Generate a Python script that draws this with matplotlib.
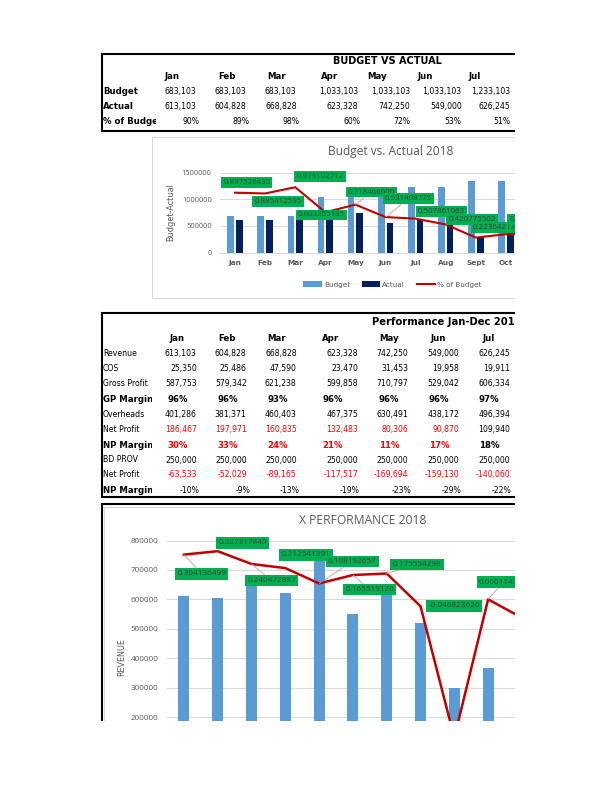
import matplotlib
matplotlib.use('Agg')
import matplotlib.pyplot as plt
from matplotlib.patches import Rectangle
from matplotlib.lines import Line2D
from matplotlib.transforms import Bbox, TransformedBbox
import numpy as np

# ---------------- data ----------------
t1_months = ['Jan', 'Feb', 'Mar', 'Apr', 'May', 'Jun', 'Jul']
t1_budget = [683103, 683103, 683103, 1033103, 1033103, 1033103, 1233103]
t1_actual = [613103, 604828, 668828, 623328, 742250, 549000, 626245]
t1_pct = ['90%', '89%', '98%', '60%', '72%', '53%', '51%']

revenue = [613103, 604828, 668828, 623328, 742250, 549000, 626245]
cos = [25350, 25486, 47590, 23470, 31453, 19958, 19911]
gross_profit = [587753, 579342, 621238, 599858, 710797, 529042, 606334]
gp_margin = ['96%', '96%', '93%', '96%', '96%', '96%', '97%']
overheads = [401286, 381371, 460403, 467375, 630491, 438172, 496394]
net_profit = [186467, 197971, 160835, 132483, 80306, 90870, 109940]
np_margin = ['30%', '33%', '24%', '21%', '11%', '17%', '18%']
bd_prov = [250000, 250000, 250000, 250000, 250000, 250000, 250000]
net_profit2 = [-63533, -52029, -89165, -117517, -169694, -159130, -140060]
np_margin2 = ['-10%', '-9%', '-13%', '-19%', '-23%', '-29%', '-22%']
red_net_profit = [True, True, True, True, True, True, False]
red_np_margin = [True, True, True, True, True, True, False]
red_net_profit2 = [True, True, True, True, True, True, True]

c1_months = ['Jan', 'Feb', 'Mar', 'Apr', 'May', 'Jun', 'Jul', 'Aug', 'Sept', 'Oct', 'Nov', 'Dec']
c1_budget = [683103, 683103, 683103, 1033103, 1033103, 1033103, 1233103, 1233103, 1333103, 1333103]
c1_actual = [613103, 604828, 668828, 623328, 742250, 549000, 626245, 518866, 298138, 366000]
c1_pct = [0.897526435, 0.885412595, 0.979102712, 0.603355135, 0.718466600, 0.531408775,
          0.507861063, 0.420775502, 0.223642135, 0.274547248, 0.29]

c2_months = c1_months
c2_revenue = [613103, 604828, 668828, 623328, 742250, 549000, 626245, 518866, 298138, 366000]
c2_margin = [0.304136499, 0.327317849, 0.240472887, 0.212541391, 0.108192657, 0.165519126,
             0.175554296, -0.046823626, -0.94, 0.000114350, -0.125]

# label offsets (pixels, +y = up) and leader flags; None = label not on the page
c1_off = [(11.7, 10.2), (12.9, -8.2), (24.8, 10.7), (-3.9, -2.7), (16.2, 12.6), (22.8, 18.2),
          (25.9, 7.6), (26.2, 4.9), (20.9, 10.1), (27.0, 14.7), None]
c1_lead = [False, False, False, False, True, True, False, False, False, False, False]
c2_off = [(17.8, -19.3), (24.8, 8.2), (20.2, -16.7), (20.7, 13.1), (33.1, 21.8), (16.8, -14.3),
          (30.3, 9.1), (33.8, 0.3), (30, -10), (15.2, 17.2), None]
c2_lead = [True, False, True, False, True, True, True, False, False, True, False]

# ---------------- figure ----------------
W, H = 612, 792
fig = plt.figure(figsize=(W / 100, H / 100), dpi=100)
fig.patch.set_facecolor('white')


def X(px):
    return px / W


def Y(py):
    return 1 - py / H


BLUE = '#5B9BD5'
NAVY = '#002060'
RED_LINE = '#C00000'
GREEN = '#00B050'
GRID = '#D9D9D9'
GREYTXT = '#595959'
CF = 'Open Sans'


def hline(x1, x2, y, color='black', lw=1.5, z=5):
    fig.add_artist(Line2D([X(x1), X(x2)], [Y(y), Y(y)], transform=fig.transFigure,
                          color=color, lw=lw, zorder=z, solid_capstyle='butt'))


def vline(x, y1, y2, color='black', lw=1.5, z=5):
    fig.add_artist(Line2D([X(x), X(x)], [Y(y1), Y(y2)], transform=fig.transFigure,
                          color=color, lw=lw, zorder=z, solid_capstyle='butt'))


def cell(x, y, s, ha='right', bold=False, color='black', size=None, clipx=None):
    fs = size if size else (6.2 if bold else 5.6)
    t = fig.text(X(x), Y(y), s, ha=ha, va='center', fontsize=fs,
                 fontweight='bold' if bold else 'normal', color=color, family='DejaVu Sans')
    if clipx is not None:
        t.set_clip_box(TransformedBbox(Bbox.from_extents(0, 0, X(clipx), 1), fig.transFigure))
        t.set_clip_on(True)
    return t


def fmt(v):
    return f"{v:,}"


# ---------------- Table 1 ----------------
hline(101, 612, 54)
hline(101, 612, 131)
vline(101.7, 53.3, 131.7)
cell(387.5, 60.7, 'BUDGET VS ACTUAL', ha='center', bold=True, size=7)
t1_hdr_x = [171.7, 226.7, 276.7, 330, 377.5, 425, 475]
t1_num_r = [196.7, 246.7, 296.7, 358.3, 410, 461.7, 510]
t1_pct_r = [199.3, 249.3, 299.3, 360, 410, 461.7, 510]
for m, xx in zip(t1_months, t1_hdr_x):
    cell(xx, 76.7, m, ha='center', bold=True)
for lab, yy in zip(['Budget', 'Actual', '% of Budget'], [91.7, 106.7, 121]):
    cell(103, yy, lab, ha='left', bold=True, clipx=156)
for i in range(7):
    cell(t1_num_r[i], 91.7, fmt(t1_budget[i]))
    cell(t1_num_r[i], 106.7, fmt(t1_actual[i]))
    cell(t1_pct_r[i], 121, t1_pct[i])

# ---------------- Chart 1 ----------------
fig.add_artist(Rectangle((X(152), Y(298.3)), (700 - 152) / W, (298.3 - 136.5) / H,
                         transform=fig.transFigure, fill=False, ec=GRID, lw=0.75, zorder=-1))
fig.text(X(391), Y(152), 'Budget vs. Actual 2018', ha='center', va='center',
         fontsize=8.6, color=GREYTXT, family=CF)
fig.text(X(171), Y(212.5), 'Budget-Actual', ha='center', va='center', rotation=90,
         fontsize=5.9, color=GREYTXT, family='DejaVu Sans')

sp1 = 30.1
ax1 = fig.add_axes([X(220), Y(252.5), 12 * sp1 / W, 80 / H])
xb = np.arange(len(c1_budget))
b1 = ax1.bar(xb - 0.145, c1_budget, width=0.222, color=BLUE, zorder=2)
b2 = ax1.bar(xb + 0.145, c1_actual, width=0.222, color=NAVY, zorder=2)
ax1.set_xlim(-0.5, 11.5)
ax1.set_ylim(0, 1500000)
ax1.set_yticks([0, 500000, 1000000, 1500000])
ax1.set_yticklabels(['0', '500000', '1000000', '1500000'])
ax1.set_xticks(np.arange(len(c1_budget)))
ax1.set_xticklabels(c1_months[:len(c1_budget)])
ax1.grid(axis='y', color=GRID, lw=0.75)
ax1.set_axisbelow(True)
for s in ['top', 'right', 'left']:
    ax1.spines[s].set_visible(False)
ax1.spines['bottom'].set_color(GRID)
ax1.spines['bottom'].set_linewidth(0.75)
ax1.tick_params(axis='both', length=0)
ax1.tick_params(axis='y', pad=6, labelsize=5.4, labelcolor=GREYTXT)
ax1.tick_params(axis='x', pad=5.6, labelsize=5.3, labelcolor=GREYTXT)
for lab in ax1.get_yticklabels():
    lab.set_family(CF)
for lab in ax1.get_xticklabels():
    lab.set_family('DejaVu Sans')
    lab.set_fontweight('bold')

ax2 = ax1.twinx()
ax2.set_ylim(0, 1.2)
ax2.axis('off')
xl = np.arange(len(c1_pct))
ln1, = ax2.plot(xl, c1_pct, color=RED_LINE, lw=1.5, zorder=3, solid_joinstyle='miter')
for i, v in enumerate(c1_pct):
    if c1_off[i] is None:
        continue
    dx, dy = c1_off[i]
    ap = dict(arrowstyle='-', color='#A6A6A6', lw=0.6, shrinkA=0, shrinkB=0) if c1_lead[i] else None
    ax2.annotate(f"{v:.9f}", xy=(i, v), xytext=(dx * 0.72, dy * 0.72), textcoords='offset points',
                 ha='center', va='center', fontsize=5.65, color='#404040', family=CF,
                 bbox=dict(boxstyle='square,pad=0.25', fc=GREEN, ec='none'),
                 arrowprops=ap, zorder=4)

ax1.legend([b1, b2, ln1], ['Budget', 'Actual', '% of Budget'], ncol=3, loc='center',
           bbox_to_anchor=(X(392.5), Y(284.5)), bbox_transform=fig.transFigure,
           frameon=False, prop=dict(size=5.2, family='DejaVu Sans'), labelcolor=GREYTXT,
           handlelength=2.55, handleheight=0.83, handletextpad=0.3, columnspacing=1.6,
           borderpad=0, borderaxespad=0)

# ---------------- Table 2 ----------------
hline(101, 612, 312.7)
hline(101, 612, 497)
vline(101.7, 312, 497.7)
cell(371.7, 321.7, 'Performance Jan-Dec 2018', ha='left', bold=True, size=7.2)
t2_hdr_x = [176.7, 226.7, 276.7, 330.8, 389, 438, 489]
t2_num_r = [196.7, 246.7, 296.7, 358.3, 408.3, 459.3, 510]
t2_pct_c = [177.5, 227.5, 277.5, 333, 389, 439, 489]
t2_pct_r = [199.3, 250, 300, 360, 411, 461.7, 511.7]
for m, xx in zip(t1_months, t2_hdr_x):
    cell(xx, 338.3, m, ha='center', bold=True)

rows = [
    ('Revenue', [fmt(v) for v in revenue], 'num', False, [False] * 7),
    ('COS', [fmt(v) for v in cos], 'num', False, [False] * 7),
    ('Gross Profit', [fmt(v) for v in gross_profit], 'num', False, [False] * 7),
    ('GP Margin', gp_margin, 'pctc', True, [False] * 7),
    ('Overheads', [fmt(v) for v in overheads], 'num', False, [False] * 7),
    ('Net Profit', [fmt(v) for v in net_profit], 'num', False, red_net_profit),
    ('NP Margin', np_margin, 'pctc', True, red_np_margin),
    ('BD PROV', [fmt(v) for v in bd_prov], 'num', False, [False] * 7),
    ('Net Profit', [fmt(v) for v in net_profit2], 'num', False, red_net_profit2),
    ('NP Margin', np_margin2, 'pctr', True, [False] * 7),
]
row_y = [353.3, 368.3, 383.3, 399, 414.3, 429.3, 445, 460, 475, 490]
for (lab, vals, kind, bold, reds), yy in zip(rows, row_y):
    cell(103, yy, lab, ha='left', bold=bold, clipx=152)
    for i, s in enumerate(vals):
        col = '#FF0000' if reds[i] else 'black'
        if kind == 'num':
            cell(t2_num_r[i], yy, s, ha='right', color=col)
        elif kind == 'pctc':
            cell(t2_pct_c[i], yy, s, ha='center', bold=True, color=col)
        else:
            cell(t2_pct_r[i], yy, s, ha='right', color=col)

# ---------------- Chart 2 ----------------
hline(101, 612, 504)
vline(101.7, 503.3, 792)
fig.add_artist(Rectangle((X(104), Y(900)), (700 - 104) / W, (900 - 507.3) / H,
                         transform=fig.transFigure, fill=False, ec=GRID, lw=0.75, zorder=-1))
fig.text(X(363), Y(520), 'X PERFORMANCE 2018', ha='center', va='center',
         fontsize=8.7, color=GREYTXT, family=CF)
fig.text(X(121.7), Y(656.7), 'REVENUE', ha='center', va='center', rotation=90,
         fontsize=5.8, color=GREYTXT, family='DejaVu Sans')

sp2 = 33.8
ax3 = fig.add_axes([X(167), Y(776), 12 * sp2 / W, (776 - 540.5) / H])
xr = np.arange(len(c2_revenue))
ax3.bar(xr, c2_revenue, width=0.32, color=BLUE, zorder=2)
ax3.set_xlim(-0.5, 11.5)
ax3.set_ylim(0, 800000)
ax3.set_yticks(np.arange(200000, 800001, 100000))
ax3.set_yticklabels([str(int(v)) for v in np.arange(200000, 800001, 100000)])
ax3.set_xticks(np.arange(12))
ax3.grid(axis='y', color=GRID, lw=0.75)
ax3.set_axisbelow(True)
for s in ['top', 'right', 'left']:
    ax3.spines[s].set_visible(False)
ax3.spines['bottom'].set_color(GRID)
ax3.tick_params(axis='both', length=0)
ax3.tick_params(axis='x', labelbottom=False)
ax3.tick_params(axis='y', pad=6.3, labelsize=5.9, labelcolor=GREYTXT)
for lab in ax3.get_yticklabels():
    lab.set_family(CF)

ax4 = ax3.twinx()
ax4.set_ylim(-1.2, 0.4)
ax4.axis('off')
xm = np.arange(len(c2_margin))
ax4.plot(xm, c2_margin, color=RED_LINE, lw=1.8, zorder=3)
for i, v in enumerate(c2_margin):
    if c2_off[i] is None:
        continue
    dx, dy = c2_off[i]
    ap = dict(arrowstyle='-', color='#A6A6A6', lw=0.6, shrinkA=0, shrinkB=0) if c2_lead[i] else None
    ax4.annotate(f"{v:.9f}", xy=(i, v), xytext=(dx * 0.72, dy * 0.72), textcoords='offset points',
                 ha='center', va='center', fontsize=5.9, color='#404040', family=CF,
                 bbox=dict(boxstyle='square,pad=0.27', fc=GREEN, ec='none'),
                 arrowprops=ap, zorder=4)

# ---------------- page print-area masks ----------------
fig.add_artist(Rectangle((X(515), 0), 1, 1, transform=fig.transFigure,
                         fc='white', ec='none', zorder=50))
fig.add_artist(Rectangle((0, 0), 1, (H - 721) / H, transform=fig.transFigure,
                         fc='white', ec='none', zorder=50))

fig.savefig('out.png', dpi=100, facecolor='white')
